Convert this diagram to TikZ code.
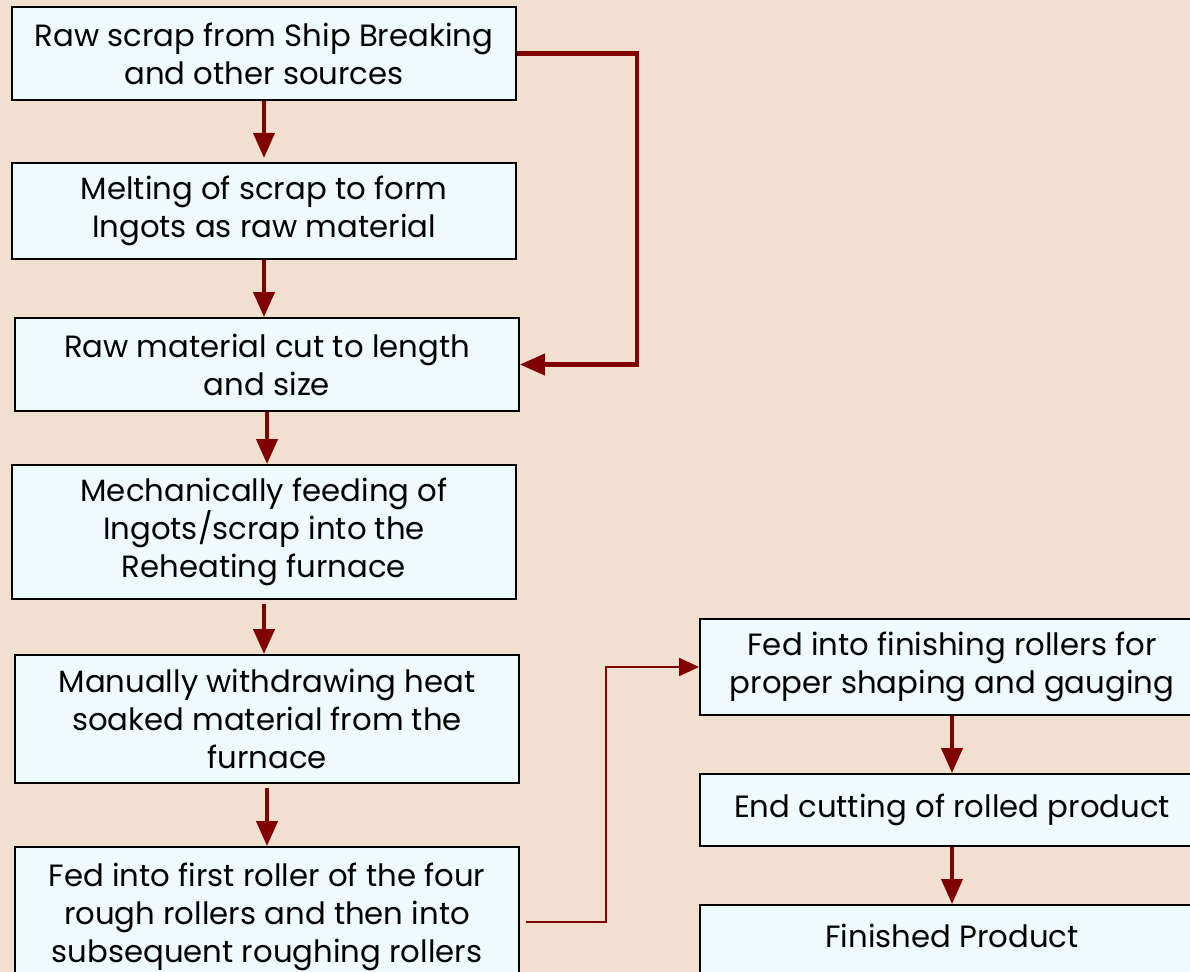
\documentclass[tikz,border=0pt]{standalone}
\usepackage{fontspec}
\setmainfont{Poppins}
\usetikzlibrary{arrows.meta, positioning}
\definecolor{bgcol}{RGB}{241,223,208}
\definecolor{boxcol}{RGB}{239,250,255}
\definecolor{linkcol}{RGB}{128,0,0}

\begin{document}
\begin{tikzpicture}[x=0.02cm, y=-0.02cm]
      \tikzset{
        stage/.style={draw=black, line width=1.1pt, fill=boxcol, align=center,
          minimum width=10.08cm, inner sep=0pt,
          font=\fontsize{17.5}{21.6}\selectfont},
        flow/.style={draw=linkcol, line width=2.3pt,
          -{Triangle[width=0.42cm, length=0.5cm]}},
        feed/.style={draw=linkcol, line width=1.1pt,
          -{Triangle[width=0.36cm, length=0.4cm]}}
      }
      \clip (0,0) rectangle (1190,972);
      \fill [bgcol] (0,0) rectangle (1190,972);
      % left column
      \node [stage, minimum height=1.86cm] (scrap) at (264,53.5) {Raw scrap from Ship Breaking\\and other sources};
      \node [stage, minimum height=1.92cm] (melt) at (264,211) {Melting of scrap to form\\Ingots as raw material};
      \node [stage, minimum height=1.86cm] (cut) at (267,364.5) {Raw material cut to length\\and size};
      \node [stage, minimum height=2.68cm] (charge) at (264,532) {Mechanically feeding of\\Ingots/scrap into the\\Reheating furnace};
      \node [stage, minimum height=2.56cm] (withdraw) at (267,719) {Manually withdrawing heat\\soaked material from the\\furnace};
      \node [stage, minimum height=2.8cm] (rough) at (267,917) {Fed into first roller of the four\\rough rollers and then into\\subsequent roughing rollers};
      % right column
      \node [stage, minimum height=1.92cm] (finish) at (952,667) {Fed into finishing rollers for\\proper shaping and gauging};
      \node [stage, minimum height=1.44cm] (endcut) at (952,810) {End cutting of rolled product};
      \node [stage, minimum height=2.0cm] (product) at (952,955) {Finished Product\\\mbox{}};
      % connectors
      \draw [flow] (scrap.south) -- ++(0,57);
      \draw [flow] (melt.south) -- (cut.north -| melt.south);
      \draw [flow] (cut.south) -- (charge.north -| cut.south);
      \draw [flow] ([yshift=-0.08cm]charge.south) -- (withdraw.north -| charge.south);
      \draw [flow] ([yshift=-0.08cm]withdraw.south) -- (rough.north);
      \draw [flow] (scrap.east) -- ++(120,0) |- (cut.east);
      \draw [feed] ([xshift=0.12cm, yshift=-0.1cm]rough.east) -- ++(80,0) |- (finish.west);
      \draw [flow] (finish.south) -- (endcut.north);
      \draw [flow] (endcut.south) -- (product.north);
\end{tikzpicture}
\end{document}
